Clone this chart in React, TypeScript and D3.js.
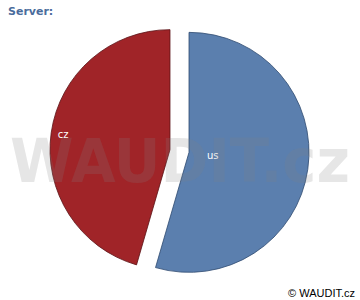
import React from "react";
import * as d3 from "d3";

const categories = ["us", "cz"];
const values = [54.5, 45.5];
const colors = ["#5b7fae", "#a02428"];
const strokes = ["#2e4a70", "#5a1215"];
const labelFrac = [0.2, 0.9];

export default function App() {
  const W = 360, H = 300;
  const cx = 179.5, cy = 151, r = 120, explode = 9.6;
  const pie = d3.pie<number>().sort(null).value((d) => d);
  const arcs = pie(values);
  const arc = d3.arc<d3.PieArcDatum<number>>().innerRadius(0).outerRadius(r);
  return (
    <svg width={W} height={H} style={{ position: "absolute", left: 0, top: 0 }}>
      <rect width={W} height={H} fill="#fff" />
      <text x={8} y={15} fontFamily="DejaVu Sans" fontWeight="bold" fontSize={11} fill="#4a6c9c">Server:</text>
      {arcs.map((a, i) => {
        const mid = (a.startAngle + a.endAngle) / 2;
        const ox = Math.sin(mid) * explode, oy = -Math.cos(mid) * explode;
        const lr = r * labelFrac[i];
        const lx = Math.sin(mid) * lr, ly = -Math.cos(mid) * lr;
        return (
          <g key={i} transform={`translate(${cx + ox},${cy + oy})`}>
            <path d={arc(a) || ""} fill={colors[i]} stroke={strokes[i]} strokeWidth={0.8} />
            <text x={lx} y={ly} dy="0.35em" textAnchor="middle" fontFamily="DejaVu Sans" fontSize={10} fill="#fff">{categories[i]}</text>
          </g>
        );
      })}
      <text x={180} y={182} textAnchor="middle" fontFamily="DejaVu Sans" fontWeight="bold" fontSize={60} fill="#808080" fillOpacity={0.2} textLength={340} lengthAdjust="spacingAndGlyphs">WAUDIT.cz</text>
      <text x={355} y={297} textAnchor="end" fontFamily="Liberation Sans" fontSize={11} fill="#000">© WAUDIT.cz</text>
    </svg>
  );
}
